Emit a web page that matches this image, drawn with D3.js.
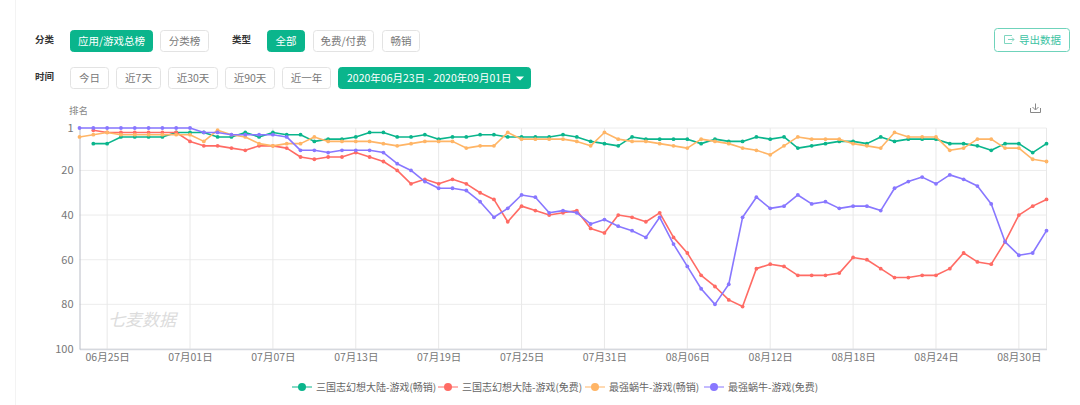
<!DOCTYPE html>
<html>
<head>
<meta charset="utf-8">
<script src="https://d3js.org/d3.v7.min.js"></script>
<style>
   html, body { margin: 0; padding: 0; background: #fff; overflow: hidden; }
   svg { display: block; }
   text { font-family: "Noto Sans CJK SC", "Noto Sans", sans-serif; }
</style>
</head>
<body>
<div id="mainChart"></div>
<script>
// Chart data, rank per day from 06-23 to 09-01 (null = not ranked yet)
const startDate = "2020-06-23"
const endDate = "2020-09-01"
const tickLabels = ["06-25", "07-01", "07-07", "07-13", "07-19", "07-25", "07-31", "08-06", "08-12", "08-18", "08-24", "08-30"]
const rankTicks = [1, 20, 40, 60, 80, 100]

const seriesNames = ["三国志幻想大陆-游戏(畅销)", "三国志幻想大陆-游戏(免费)", "最强蜗牛-游戏(畅销)", "最强蜗牛-游戏(免费)"]
const seriesColors = ["#0ab58c", "#ff6b64", "#ffb566", "#8877ff"]

const sanguoGrossing = [null, 8, 8, 5, 5, 5, 5, 3, 3, 3, 5, 5, 3, 5, 3, 4, 4, 7, 6, 6, 5, 3, 3, 5,
   5, 4, 6, 5, 5, 4, 4, 5, 5, 5, 5, 4, 5, 7, 8, 9, 5, 6, 6, 6, 6, 8, 6, 7,
   7, 5, 6, 5, 10, 9, 8, 7, 7, 8, 5, 7, 6, 6, 6, 8, 8, 9, 11, 8, 8, 12, 8]
const sanguoFree = [null, 2, 3, 3, 3, 3, 3, 3, 7, 9, 9, 10, 11, 9, 9, 10, 14, 15, 14, 14, 12, 14, 16, 20,
   26, 24, 26, 24, 26, 30, 33, 43, 36, 38, 40, 39, 38, 46, 48, 40, 41, 43, 39, 50, 57, 67, 72, 78,
   81, 64, 62, 63, 67, 67, 67, 66, 59, 60, 64, 68, 68, 67, 67, 64, 57, 61, 62, 52, 40, 36, 33]
const snailGrossing = [5, 4, 3, 4, 4, 4, 4, 4, 4, 7, 2, 4, 5, 8, 9, 8, 8, 5, 7, 7, 7, 7, 8, 9,
   8, 7, 7, 7, 10, 9, 9, 3, 6, 6, 6, 6, 7, 9, 3, 6, 7, 7, 8, 9, 10, 6, 7, 8,
   10, 11, 13, 9, 5, 6, 6, 6, 8, 9, 10, 3, 5, 5, 5, 11, 10, 6, 6, 10, 10, 15, 16]
const snailFree = [1, 1, 1, 1, 1, 1, 1, 1, 1, 3, 3, 4, 4, 4, 4, 5, 11, 11, 12, 11, 11, 11, 12, 17,
   20, 25, 28, 28, 29, 34, 41, 37, 31, 32, 39, 38, 39, 44, 42, 45, 47, 50, 41, 53, 63, 73, 80, 71,
   41, 32, 37, 36, 31, 35, 34, 37, 36, 36, 38, 28, 25, 23, 26, 22, 24, 27, 35, 52, 58, 57, 47]

const seriesValues = [sanguoGrossing, sanguoFree, snailGrossing, snailFree]

const filterLabels = ["应用/游戏总榜", "分类榜", "全部", "免费/付费", "畅销", "今日", "近7天", "近30天", "近90天", "近一年", "2020年06月23日 - 2020年09月01日"]
const activeFilters = ["应用/游戏总榜", "全部", "2020年06月23日 - 2020年09月01日"]

// Layout only, one box per filter label
const filterBoxes = [[70, 153, 30], [160, 209, 30], [267, 305, 30], [313, 374, 30], [382, 420, 30],
   [70, 109, 67], [116, 161, 67], [168, 218, 67], [225, 275, 67], [282, 331, 67], [338, 531, 67]]

const width = 1080, height = 405
const margin = { top: 128, right: 33.5, bottom: 56, left: 79.5 }
const accent = "#0ab58c"

let svg = d3.select("#mainChart").append("svg")
   .attr("width", width)
   .attr("height", height)

svg.append("line")
   .attr("x1", 15.5).attr("x2", 15.5).attr("y1", 0).attr("y2", height)
   .attr("stroke", "#f3f3f3")

// Filter row labels
let rowLabels = [["分类", 35, 43], ["类型", 232, 43], ["时间", 35, 80]]
svg.selectAll("text.rowLabel").data(rowLabels)
   .join("text")
   .attr("class", "rowLabel")
   .attr("x", d => d[1])
   .attr("y", d => d[2])
   .attr("font-size", 9.5)
   .attr("font-weight", 700)
   .attr("fill", "#333")
   .text(d => d[0])

// Filter buttons
let buttons = svg.selectAll("g.filter").data(filterLabels)
   .join("g")
   .attr("class", "filter")

buttons.append("rect")
   .attr("x", (d, i) => filterBoxes[i][0] + 0.5)
   .attr("y", (d, i) => filterBoxes[i][2] + 0.5)
   .attr("width", (d, i) => filterBoxes[i][1] - filterBoxes[i][0] - 1)
   .attr("height", 21)
   .attr("rx", 3)
   .attr("fill", d => activeFilters.includes(d) ? accent : "#fff")
   .attr("stroke", d => activeFilters.includes(d) ? accent : "#e3e3e3")

buttons.append("text")
   .attr("x", (d, i) => i === 10 ? filterBoxes[i][0] + 9 : (filterBoxes[i][0] + filterBoxes[i][1]) / 2)
   .attr("y", (d, i) => filterBoxes[i][2] + 15)
   .attr("text-anchor", (d, i) => i === 10 ? "start" : "middle")
   .attr("font-size", 10.5)
   .attr("fill", d => activeFilters.includes(d) ? "#fff" : "#777")
   .text(d => d)

// Dropdown arrow in the date button
svg.append("path")
   .attr("d", "M516,76.5h8l-4,4z")
   .attr("fill", "#fff")

// Export button
svg.append("rect")
   .attr("x", 994.5).attr("y", 28.5)
   .attr("width", 75).attr("height", 23)
   .attr("rx", 3)
   .attr("fill", "#fff")
   .attr("stroke", "#6fd3bb")

svg.append("path")
   .attr("d", "M1012,35.5h-7.5v8h7.5 M1008,39.5h6 M1012,37.5l2,2l-2,2")
   .attr("fill", "none")
   .attr("stroke", "#7fd6c0")

svg.append("text")
   .attr("x", 1019).attr("y", 44)
   .attr("font-size", 10.5)
   .attr("fill", "#3cc3a3")
   .text("导出数据")

// Download icon
svg.append("path")
   .attr("d", "M1030.5,108v4.5h10v-4.5 M1035.5,103.5v6 M1032.5,107l3,3l3,-3")
   .attr("fill", "none")
   .attr("stroke", "#888")

// Make scales
let parseDay = d3.timeParse("%Y-%m-%d")
let days = d3.timeDay.range(parseDay(startDate), d3.timeDay.offset(parseDay(endDate), 1))
let tickDates = tickLabels.map(d => parseDay("2020-" + d))

let x = d3.scaleTime()
   .domain([days[0], days[days.length - 1]])
   .range([margin.left, width - margin.right])

let y = d3.scaleLinear()
   .domain([1, 100])
   .range([margin.top, height - margin.bottom])

// Grid lines
svg.selectAll("line.gridH").data(rankTicks)
   .join("line")
   .attr("class", "gridH")
   .attr("x1", margin.left).attr("x2", width - margin.right)
   .attr("y1", d => y(d)).attr("y2", d => y(d))
   .attr("stroke", "#ececec")

svg.selectAll("line.gridV").data(tickDates.concat([days[days.length - 1]]))
   .join("line")
   .attr("class", "gridV")
   .attr("x1", d => x(d)).attr("x2", d => x(d))
   .attr("y1", margin.top).attr("y2", height - margin.bottom)
   .attr("stroke", "#e8e8e8")

// Append axis
let xAxis = d3.axisBottom(x)
   .tickValues(tickDates)
   .tickFormat(d3.timeFormat("%m月%d日"))
   .tickSize(0)
   .tickPadding(5)

let yAxis = d3.axisLeft(y)
   .tickValues(rankTicks)
   .tickSize(0)
   .tickPadding(6)

let horizontalAxis = svg.append("g")
   .attr("transform", "translate(0," + (height - margin.bottom) + ")")
   .call(xAxis)

let verticalAxis = svg.append("g")
   .attr("transform", "translate(" + margin.left + ",0)")
   .call(yAxis)

horizontalAxis.select(".domain").attr("stroke", "#d5d8de").attr("stroke-width", 1.5)
verticalAxis.select(".domain").attr("stroke", "#b9bcc6")
horizontalAxis.selectAll("text").attr("font-size", 10.5).attr("fill", "#777").attr("font-family", null)
verticalAxis.selectAll("text").attr("font-size", 11).attr("fill", "#777").attr("font-family", null)

svg.append("text")
   .attr("x", 69).attr("y", 114)
   .attr("font-size", 9.5)
   .attr("fill", "#888")
   .text("排名")

// Watermark
svg.append("text")
   .attr("x", 108).attr("y", 326)
   .attr("font-size", 17)
   .attr("font-style", "italic")
   .attr("fill", "#dcdcdc")
   .text("七麦数据")

// Lines and points
let line = d3.line()
   .defined(d => d !== null)
   .x((d, i) => x(days[i]))
   .y(d => y(d))

seriesValues.forEach(function (values, s) {
   svg.append("path")
      .datum(values)
      .attr("d", line)
      .attr("fill", "none")
      .attr("stroke", seriesColors[s])
      .attr("stroke-width", 1.6)
      .attr("stroke-linejoin", "round")

   // Keep the day with each value so the gaps do not shift the points
   let points = values.map((d, i) => ({ day: days[i], rank: d })).filter(d => d.rank !== null)

   svg.selectAll("circle.dot" + s).data(points)
      .join("circle")
      .attr("class", "dot" + s)
      .attr("cx", d => x(d.day))
      .attr("cy", d => y(d.rank))
      .attr("r", 1.9)
      .attr("fill", seriesColors[s])
})

// Legend
let legendX = [302, 448, 595, 714]
let legend = svg.selectAll("g.legend").data(seriesNames)
   .join("g")
   .attr("class", "legend")
   .attr("transform", (d, i) => "translate(" + legendX[i] + ",387)")

legend.append("line")
   .attr("x1", -10).attr("x2", 10)
   .attr("stroke", (d, i) => seriesColors[i])

legend.append("circle")
   .attr("r", 4)
   .attr("fill", (d, i) => seriesColors[i])

legend.append("text")
   .attr("x", 14).attr("y", 3.5)
   .attr("font-size", 10)
   .attr("fill", "#666")
   .text(d => d)
</script>
</body>
</html>
